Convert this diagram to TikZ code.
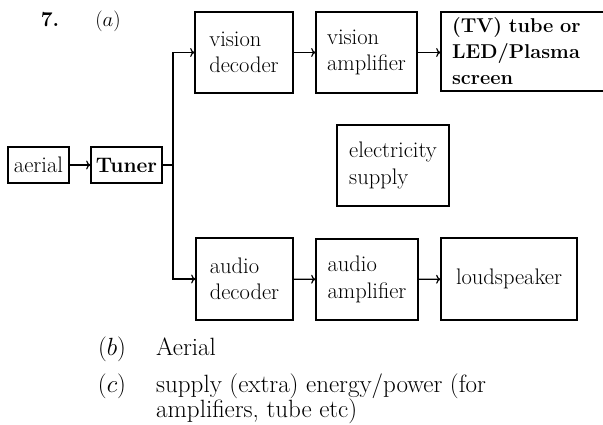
\documentclass[tikz,border=0pt]{standalone}
\usepackage{amsmath}
\usepackage{tikz}
\usetikzlibrary{arrows.meta, calc}

\begin{document}
\begin{tikzpicture}[x=1pt, y=-1pt,
  every node/.style={font=\fontsize{22.5}{26.5}\selectfont},
  blk/.style={draw, line width=1.2pt, inner sep=0pt, align=left},
  link/.style={->, line width=1.2pt}]
  \useasboundingbox (0,0) rectangle (603,425);
  \node[anchor=base, font=\fontsize{21}{25}\selectfont\bfseries] (qnum) at (50,27) {7.};
  \node[anchor=base] (parta) at (108,27) {$(a)$};
  % receiver chain
  \node[blk, minimum width=61, minimum height=36] (aerial) at (38.5,165) {aerial};
  \node[blk, font=\fontsize{21}{25}\selectfont\bfseries, minimum width=71, minimum height=36] (tuner) at (126.5,165) {Tuner};
  \coordinate (split) at (173,165);
  \node[blk, minimum width=98, minimum height=81] (vdec) at (244,52.5) {vision\\decoder};
  \node[blk, minimum width=101, minimum height=81] (vamp) at (366.5,52.5) {vision\\amplifier};
  \node[blk, font=\fontsize{20}{26}\selectfont\bfseries, minimum width=179, minimum height=79,
        text width=157, inner xsep=11] (tube) at (530.5,51.5) {(TV) tube or\\LED/Plasma\\screen};
  \node[blk, minimum width=112, minimum height=81] (mains) at (393,165.5) {electricity\\supply};
  \node[blk, minimum width=97, minimum height=82] (adec) at (244.5,279) {audio\\decoder};
  \node[blk, minimum width=102, minimum height=81] (aamp) at (367,279.5) {audio\\amplifier};
  \node[blk, minimum width=136, minimum height=82] (spkr) at (509,279) {loudspeaker};
  \draw[link] (aerial) -- (tuner);
  \draw[link] (tuner) -- (split) |- (vdec);
  \draw[link] (split) |- (adec);
  \draw[link] (vdec) -- (vamp);
  \draw[link] (vamp) -- (vamp -| tube.west);
  \draw[link] (adec) -- (aamp);
  \draw[link] (aamp) -- (spkr);
  % answers
  \begin{scope}[every node/.style={font=\fontsize{25}{25}\selectfont}]
    \node[anchor=base] (partb) at (112,355) {$(b)$};
    \node[anchor=base west, inner sep=0pt] (ansb) at (156,355) {Aerial};
    \node[anchor=base] (partc) at (112,392) {$(c)$};
    \node[anchor=north west, inner sep=0pt, align=left] (ansc) at (156,373.2)
      {supply (extra) energy/power (for\\amplifiers, tube etc)};
  \end{scope}
\end{tikzpicture}
\end{document}
